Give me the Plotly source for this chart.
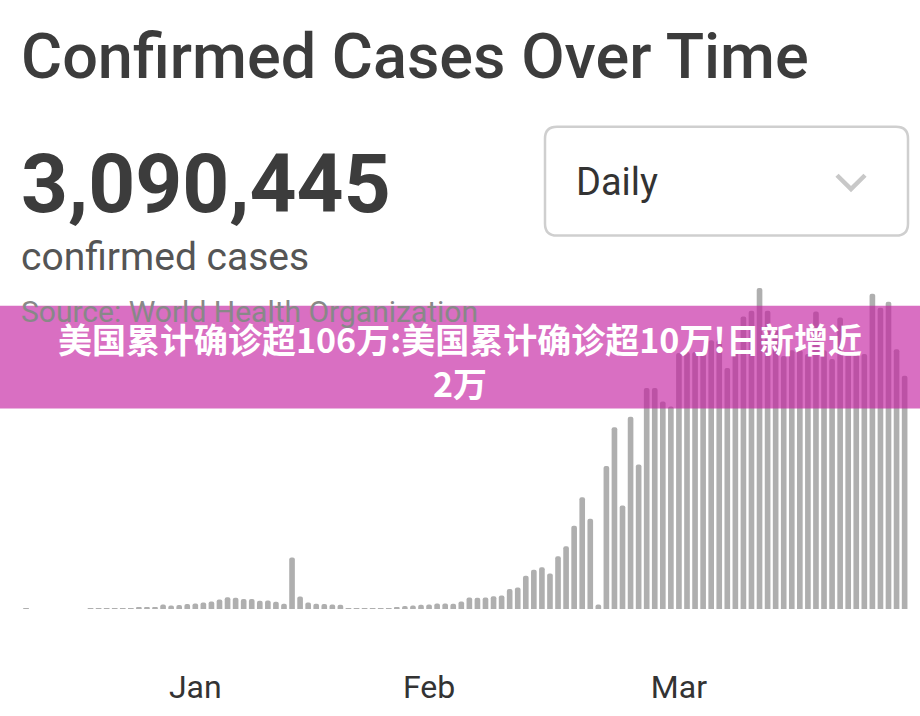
import pandas as pd
import plotly.graph_objects as go

# ---------------- data ----------------
start_date = "2020-01-11"
daily_cases = [
    120, 0, 0, 0, 0, 0, 0, 0, 90, 100, 120, 130, 150, 170, 350, 380, 550,
    1350, 1100, 1200, 1500, 1700, 1950, 2300, 2900, 3550, 3400, 3000, 3000,
    2500, 2600, 2200, 1600, 15600, 3800, 1950, 1600, 1500, 1400, 1300,
    300, 300, 300, 300, 220, 300, 380, 900, 1100, 1300,
    1350, 1700, 1650, 1600, 2250, 3500, 3400, 3500, 3900, 4100, 6060, 6500,
    10100, 11900, 12700, 10800, 16050, 19050, 25300, 33900, 27400, 1400,
    43400, 55200, 31400, 58400, 43900, 67100, 67100, 63000, 61500,
    77700, 78000, 78000, 78300, 81600, 81600, 73200, 78300, 88800, 90600,
    97500, 90600, 84900, 76800, 78600, 78600, 77400, 90300, 78600, 75900,
    88500, 77400, 77400, 77400, 95700, 91500, 93300, 78900, 70800,
]
dates = pd.date_range(start_date, periods=len(daily_cases), freq="D")

tick_dates = ["2020-02-01", "2020-03-01", "2020-04-01"]
tick_labels = ["Jan", "Feb", "Mar"]

title_text = "Confirmed Cases Over Time"
total_text = "3,090,445"
subtitle_text = "confirmed cases"
source_text = "Source: World Health Organization"
dropdown_text = "Daily"
banner_text = "美国累计确诊超106万:美国累计确诊超10万!日新增近<br>2万"

# ---------------- layout helpers ----------------
FW, FH = 920, 716
L, R, T, B = 20, 10, 280, 103
W = FW - L - R
H = FH - T - B


def px(x):
    return (x - L) / W


def py(y):
    return (FH - B - y) / H


fig = go.Figure()
fig.add_trace(go.Bar(
    x=dates, y=daily_cases,
    marker=dict(color="#afafaf", cornerradius=3, line=dict(width=0)),
    hoverinfo="x+y",
))

fig.update_layout(
    width=FW, height=FH,
    margin=dict(l=L, r=R, t=T, b=B),
    paper_bgcolor="white", plot_bgcolor="white",
    bargap=0.3,
    showlegend=False,
    font=dict(family="Roboto, 'Noto Sans', sans-serif", color="#333333"),
)
fig.update_xaxes(
    type="date",
    range=["2020-01-10 06:00", "2020-04-29 16:00"],
    tickvals=tick_dates, ticktext=tick_labels,
    ticks="outside", ticklen=50, tickcolor="rgba(0,0,0,0)",
    tickfont=dict(size=32, color="#333333", family="Roboto"),
    showgrid=False, zeroline=False, showline=False,
)
fig.update_yaxes(
    range=[0, H * 300],
    visible=False, showgrid=False, zeroline=False,
)

ann = []
ann.append(dict(text=title_text, x=px(19), y=py(54), xanchor="left", yanchor="middle",
                font=dict(size=63, color="#3c3c3c", family="Roboto", weight=500)))
ann.append(dict(text=total_text, x=px(19), y=py(183), xanchor="left", yanchor="middle",
                font=dict(size=82, color="#3c3c3c", family="Roboto", weight="bold")))
ann.append(dict(text=subtitle_text, x=px(19), y=py(257), xanchor="left", yanchor="middle",
                font=dict(size=39, color="#555555", family="Roboto")))
ann.append(dict(text=source_text, x=px(19), y=py(312), xanchor="left", yanchor="middle",
                font=dict(size=30, color="#888888", family="Roboto")))
ann.append(dict(text=dropdown_text, x=px(574), y=py(181), xanchor="left", yanchor="middle",
                font=dict(size=38, color="#333333", family="Roboto")))

shapes = []
# dropdown box with rounded corners
x0, x1, y0, y1, r = 545, 908, 125, 235, 12
path = (
    f"M {px(x0 + r)} {py(y0)} L {px(x1 - r)} {py(y0)} "
    f"Q {px(x1)} {py(y0)} {px(x1)} {py(y0 + r)} "
    f"L {px(x1)} {py(y1 - r)} Q {px(x1)} {py(y1)} {px(x1 - r)} {py(y1)} "
    f"L {px(x0 + r)} {py(y1)} Q {px(x0)} {py(y1)} {px(x0)} {py(y1 - r)} "
    f"L {px(x0)} {py(y0 + r)} Q {px(x0)} {py(y0)} {px(x0 + r)} {py(y0)} Z"
)
shapes.append(dict(type="path", xref="paper", yref="paper", path=path,
                   line=dict(color="#cfcfcf", width=2.5), fillcolor="rgba(0,0,0,0)"))
# chevron
chev = f"M {px(837)} {py(174)} L {px(851)} {py(188)} L {px(865)} {py(174)}"
shapes.append(dict(type="path", xref="paper", yref="paper", path=chev,
                   line=dict(color="#c8c8c8", width=4.5)))
# pink banner (semi-transparent)
shapes.append(dict(type="rect", xref="paper", yref="paper", layer="above",
                   x0=px(0), x1=px(920), y0=py(410), y1=py(306),
                   fillcolor="rgba(196,30,160,0.64)", line=dict(width=0)))

ann.append(dict(text=banner_text, x=px(460), y=py(361), xanchor="center", yanchor="middle",
                align="center",
                font=dict(size=34, color="white", family="Noto Sans CJK SC", weight="bold")))

for a in ann:
    a.setdefault("xref", "paper")
    a.setdefault("yref", "paper")
    a.setdefault("showarrow", False)

fig.update_layout(annotations=ann, shapes=shapes)
fig.write_html("out.html")
